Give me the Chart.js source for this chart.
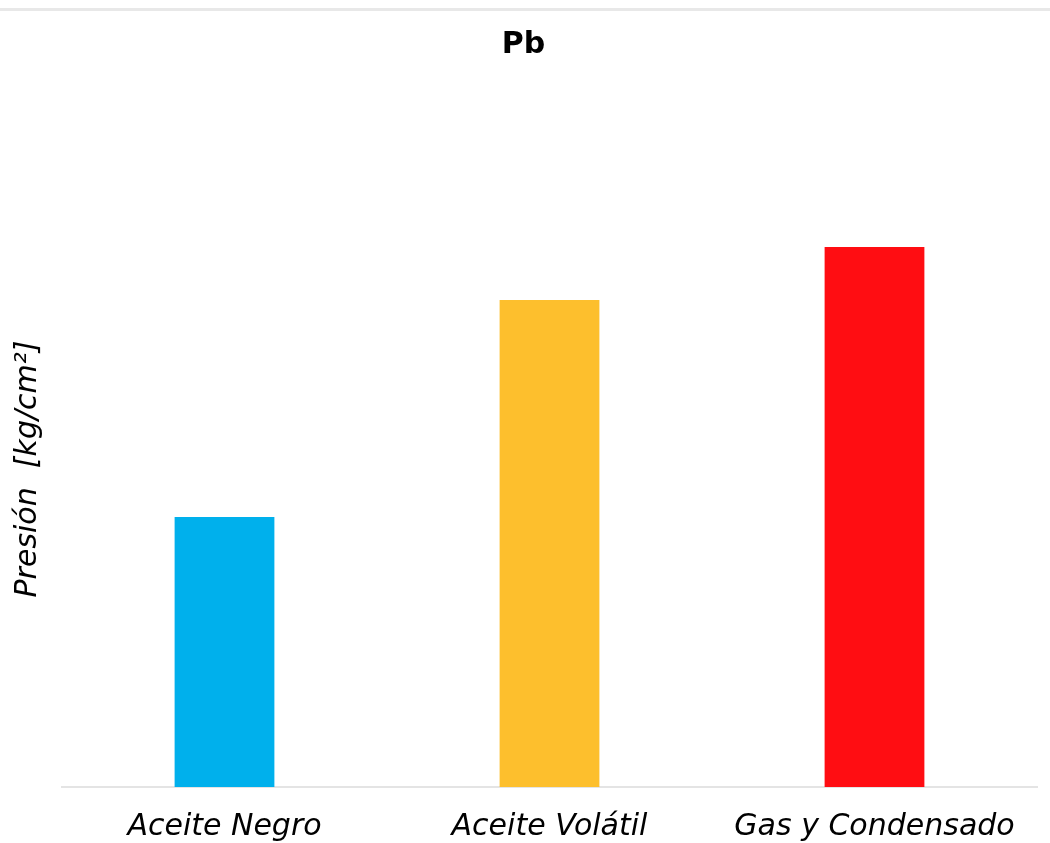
<!DOCTYPE html>
<html>
<head>
<meta charset="utf-8">
<script src="https://cdn.jsdelivr.net/npm/chart.js@4.4.1/dist/chart.umd.min.js"></script>
<style>
  html, body { margin: 0; padding: 0; background: #fff; overflow: hidden; }
  #topLine { position: absolute; left: 0; top: 8px; width: 1050px; height: 3px; background: #e8e8e8; }
  #wrap { position: absolute; left: 0; top: 11px; width: 1050px; height: 856px; }
</style>
</head>
<body>
<div id="topLine"></div>
<div id="wrap"><canvas id="pbChart"></canvas></div>
<script>
// Datos
const categorias = ['Aceite Negro', 'Aceite Volátil', 'Gas y Condensado'];
const presion = [135, 243.5, 270];
const colores = ['#00B0EC', '#FDBF2D', '#FF0D12'];

const ctx = document.getElementById('pbChart').getContext('2d');

const chart = new Chart(ctx, {
    type: 'bar',
    data: {
        labels: categorias,
        datasets: [
            { label: 'Pb', data: presion, backgroundColor: colores, borderWidth: 0, barPercentage: 0.307, categoryPercentage: 1 }
        ]
    },
    options: {
        responsive: true,
        maintainAspectRatio: false,
        animation: false,
        layout: { padding: { left: 10, right: 13, top: 0, bottom: 0 } },
        plugins: {
            legend: { display: false },
            tooltip: { enabled: false },
            title: {
                display: true,
                text: 'Pb',
                color: '#000',
                font: { family: 'DejaVu Sans', size: 30, weight: 'bold' },
                padding: { top: 16, bottom: 88 }
            }
        },
        scales: {
            x: {
                grid: { display: false, drawTicks: false },
                border: { display: true, color: '#e4e4e4', width: 2 },
                ticks: { color: '#000', padding: 22, font: { family: 'DejaVu Sans', size: 30, style: 'italic' } }
            },
            y: {
                min: 0,
                max: 318,
                grid: { display: false, drawTicks: false },
                border: { display: false },
                ticks: { display: false },
                title: {
                    display: true,
                    text: 'Presión  [kg/cm²]',
                    color: '#000',
                    padding: { top: 0, bottom: 16 },
                    font: { family: 'DejaVu Sans', size: 30, style: 'italic' }
                }
            }
        }
    }
});
</script>
</body>
</html>
